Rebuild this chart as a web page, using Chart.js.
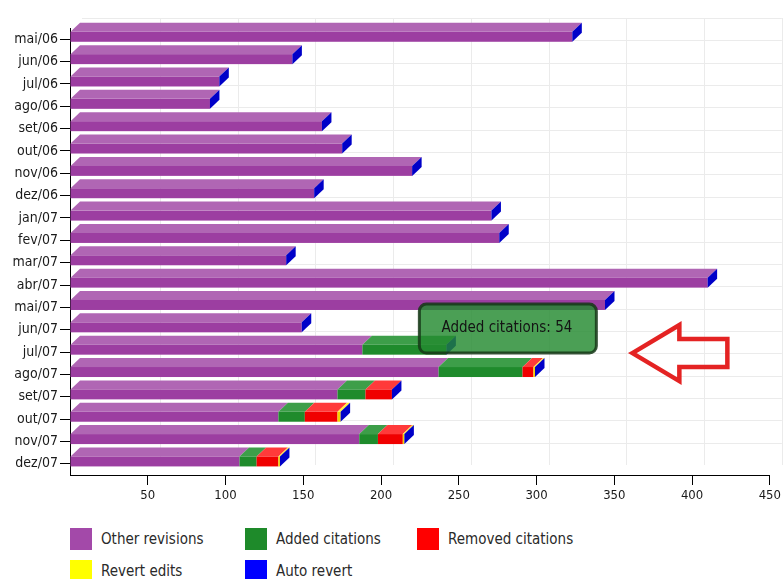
<!DOCTYPE html>
<html>
<head>
<meta charset="utf-8">
<script src="https://cdn.jsdelivr.net/npm/chart.js@4.4.1/dist/chart.umd.min.js"></script>
<style>
  html, body { margin: 0; padding: 0; background: #fff; }
  #wrap { position: relative; width: 784px; height: 579px; overflow: hidden;
          font-family: "DejaVu Sans Condensed", "DejaVu Sans", sans-serif; }
  #chart { position: absolute; left: 0; top: 0; }
  .legend-item { position: absolute; font-size: 15px; color: #2a2a2a; line-height: 22px; white-space: nowrap; }
  .legend-item span { display: inline-block; width: 22px; height: 22px; vertical-align: top; margin-right: 9px; }
</style>
</head>
<body>
<div id="wrap">
  <canvas id="chart" width="784" height="510"></canvas>
  <div id="legend"></div>
</div>
<script>
// Revisions per month, split by edit type
const MONTHS = ['mai/06', 'jun/06', 'jul/06', 'ago/06', 'set/06', 'out/06', 'nov/06', 'dez/06',
  'jan/07', 'fev/07', 'mar/07', 'abr/07', 'mai/07', 'jun/07', 'jul/07', 'ago/07',
  'set/07', 'out/07', 'nov/07', 'dez/07'];

const OTHER_REVISIONS = [323, 143, 96, 90, 162, 175, 220, 157, 271, 276, 139, 410, 344, 149, 188, 237, 172, 134, 186, 109];
const ADDED_CITATIONS = [0, 0, 0, 0, 0, 0, 0, 0, 0, 0, 0, 0, 0, 0, 54, 54, 18, 17, 12, 11];
const REMOVED_CITATIONS = [0, 0, 0, 0, 0, 0, 0, 0, 0, 0, 0, 0, 0, 0, 0, 7, 17, 21, 16, 14];
const REVERT_EDITS = [0, 0, 0, 0, 0, 0, 0, 0, 0, 0, 0, 0, 0, 0, 0, 1, 0, 2, 1, 1];
const AUTO_REVERT = [0, 0, 0, 0, 0, 0, 0, 0, 0, 0, 0, 0, 0, 0, 0, 0, 0, 0, 0, 0];

const SERIES_NAMES = ['Other revisions', 'Added citations', 'Removed citations', 'Revert edits', 'Auto revert'];
const SERIES_VALUES = [OTHER_REVISIONS, ADDED_CITATIONS, REMOVED_CITATIONS, REVERT_EDITS, AUTO_REVERT];

const FRONT_COLORS = ['#9c3ea1', '#1f8b2c', '#f00000', '#f2d400', '#0000c8'];
const TOP_COLORS = ['#b066b4', '#3d9e49', '#ff3a3a', '#ffee3a', '#2222e0'];
const LEGEND_COLORS = ['#a349a9', '#1e8a2a', '#ff0000', '#ffff00', '#0000ff'];

const X_MAX = 450;
const X_STEP = 50;

// highlighted segment shown with the tooltip box
const TOOLTIP_SERIES = 1;
const TOOLTIP_MONTH = 'jul/07';

// 3D look
const FACE_H = 10;
const FACE_SHIFT = -2.4;
const DEPTH_X = 9.5;
const DEPTH_Y = 9;
const WALL_X = 12;
const WALL_Y = 10;
const FONT = '"DejaVu Sans Condensed", "DejaVu Sans", sans-serif';

const quad = (ctx, pts, color) => {
  ctx.beginPath();
  ctx.moveTo(pts[0][0], pts[0][1]);
  for (let i = 1; i < pts.length; i++) ctx.lineTo(pts[i][0], pts[i][1]);
  ctx.closePath();
  ctx.fillStyle = color;
  ctx.fill();
};

const backWall = {
  id: 'backWall',
  beforeDatasetsDraw(chart) {
    const { ctx, chartArea, scales } = chart;
    const { left, right, top, bottom } = chartArea;
    ctx.save();
    ctx.strokeStyle = '#ebebeb';
    ctx.lineWidth = 1;
    ctx.beginPath();
    // category boundaries
    const step = (bottom - top) / MONTHS.length;
    for (let i = 0; i < MONTHS.length; i++) {
      const y = Math.round(top + i * step - WALL_Y) + 0.5;
      ctx.moveTo(left + WALL_X, y);
      ctx.lineTo(right + WALL_X, y);
    }
    // value lines
    for (let v = X_STEP; v <= X_MAX; v += X_STEP) {
      const x = Math.round(scales.x.getPixelForValue(v) + WALL_X) + 0.5;
      ctx.moveTo(x, top - WALL_Y);
      ctx.lineTo(x, bottom - WALL_Y);
    }
    ctx.stroke();
    ctx.restore();
  },
};

const bars3d = {
  id: 'bars3d',
  afterDatasetsDraw(chart) {
    const ctx = chart.ctx;
    ctx.save();
    MONTHS.forEach((month, idx) => {
      let end = null;
      let faceTop = 0;
      chart.data.datasets.forEach((ds, di) => {
        const bar = chart.getDatasetMeta(di).data[idx];
        const { x, base, y } = bar.getProps(['x', 'base', 'y'], true);
        faceTop = y + FACE_SHIFT - FACE_H / 2;
        if (Math.abs(x - base) < 0.1) return;
        ctx.fillStyle = FRONT_COLORS[di];
        ctx.fillRect(base, faceTop, x - base, FACE_H);
        quad(ctx, [[base, faceTop], [x, faceTop], [x + DEPTH_X, faceTop - DEPTH_Y], [base + DEPTH_X, faceTop - DEPTH_Y]], TOP_COLORS[di]);
        end = x;
      });
      if (end !== null) {
        quad(ctx, [[end, faceTop], [end + DEPTH_X, faceTop - DEPTH_Y],
          [end + DEPTH_X, faceTop + FACE_H - DEPTH_Y], [end, faceTop + FACE_H]], FRONT_COLORS[FRONT_COLORS.length - 1]);
      }
    });
    ctx.restore();
  },
};

const callout = {
  id: 'callout',
  afterDraw(chart) {
    const ctx = chart.ctx;
    const idx = MONTHS.indexOf(TOOLTIP_MONTH);
    const bar = chart.getDatasetMeta(TOOLTIP_SERIES).data[idx];
    const { x, y } = bar.getProps(['x', 'y'], true);
    const bx = x - 27, by = y - 48, bw = 177, bh = 49;
    ctx.save();
    ctx.beginPath();
    ctx.roundRect(bx, by, bw, bh, 7);
    ctx.fillStyle = 'rgba(35, 138, 48, 0.82)';
    ctx.fill();
    ctx.lineWidth = 3;
    ctx.strokeStyle = 'rgba(22, 55, 24, 0.85)';
    ctx.stroke();
    ctx.fillStyle = '#141414';
    ctx.font = '15px ' + FONT;
    ctx.textAlign = 'center';
    ctx.textBaseline = 'middle';
    ctx.fillText(`${SERIES_NAMES[TOOLTIP_SERIES]}: ${SERIES_VALUES[TOOLTIP_SERIES][idx]}`, bx + bw / 2 - 1, by + bh / 2);

    // red outline arrow pointing at the box
    const tx = bx + bw + 36, ty = by + bh;
    const pts = [[0, 0], [47, -28], [47, -14], [95, -14], [95, 14], [47, 14], [47, 28]];
    ctx.beginPath();
    pts.forEach(([px, py], i) => (i ? ctx.lineTo(tx + px, ty + py) : ctx.moveTo(tx + px, ty + py)));
    ctx.closePath();
    ctx.lineWidth = 4.5;
    ctx.lineJoin = 'miter';
    ctx.strokeStyle = '#e42323';
    ctx.stroke();
    ctx.restore();
  },
};

new Chart(document.getElementById('chart'), {
  type: 'bar',
  data: {
    labels: MONTHS,
    datasets: SERIES_NAMES.map((name, i) => ({
      label: name,
      data: SERIES_VALUES[i],
      backgroundColor: 'rgba(0,0,0,0)',
      borderWidth: 0,
      barPercentage: 1,
      categoryPercentage: 1,
    })),
  },
  options: {
    indexAxis: 'y',
    responsive: false,
    devicePixelRatio: 1,
    animation: false,
    events: [],
    layout: { padding: { top: 28, right: 14, left: 0, bottom: 0 } },
    plugins: {
      legend: { display: false },
      tooltip: { enabled: false },
    },
    scales: {
      x: {
        stacked: true,
        min: 0,
        max: X_MAX,
        afterFit: (scale) => { scale.height = 35; },
        ticks: {
          stepSize: X_STEP,
          color: '#1a1a1a',
          font: { family: FONT, size: 13 },
          padding: 3,
          callback: (v) => (v === 0 ? '' : v),
        },
        grid: {
          drawOnChartArea: false,
          tickLength: 10,
          tickColor: (c) => (c.tick && c.tick.value === 0 ? 'rgba(0,0,0,0)' : '#000'),
        },
        border: { display: true, color: '#000', width: 1 },
      },
      y: {
        stacked: true,
        afterFit: (scale) => { scale.width = 70; },
        ticks: {
          color: '#1a1a1a',
          font: { family: FONT, size: 14 },
          padding: 2,
        },
        grid: {
          drawOnChartArea: false,
          offset: false,
          tickLength: 10,
          tickColor: '#000',
        },
        border: { display: true, color: '#000', width: 1 },
      },
    },
  },
  plugins: [backWall, bars3d, callout],
});

// legend, three per row
const legend = document.getElementById('legend');
const LEGEND_COLS = [70, 245, 417];
const LEGEND_ROWS = [528, 560];
SERIES_NAMES.forEach((name, i) => {
  const item = document.createElement('div');
  item.className = 'legend-item';
  item.style.left = LEGEND_COLS[i % 3] + 'px';
  item.style.top = LEGEND_ROWS[Math.floor(i / 3)] + 'px';
  item.innerHTML = `<span style="background:${LEGEND_COLORS[i]}"></span>${name}`;
  legend.appendChild(item);
});
</script>
</body>
</html>
